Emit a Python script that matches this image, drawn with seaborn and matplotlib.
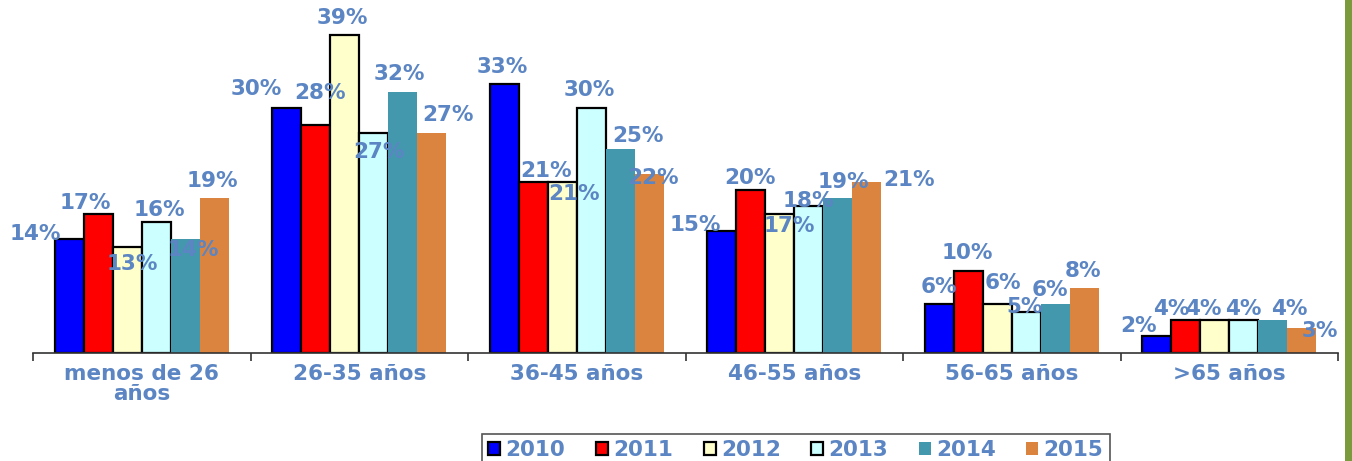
import numpy as np
import pandas as pd
import seaborn as sns
import matplotlib.pyplot as plt
from matplotlib.patches import Rectangle

# data
age_groups = ["menos de 26\naños", "26-35 años", "36-45 años", "46-55 años", "56-65 años", ">65 años"]
years = ["2010", "2011", "2012", "2013", "2014", "2015"]
pct_2010 = [14, 30, 33, 15, 6, 2]
pct_2011 = [17, 28, 21, 20, 10, 4]
pct_2012 = [13, 39, 21, 17, 6, 4]
pct_2013 = [16, 27, 30, 18, 5, 4]
pct_2014 = [14, 32, 25, 19, 6, 4]
pct_2015 = [19, 27, 22, 21, 8, 3]

# style
colors = ["#0000FF", "#FF0000", "#FFFFCC", "#CCFFFF", "#4398AE", "#DB843F"]
outlined = [True, True, True, True, False, False]
txt_col = "#5B85C3"
fs = 15.5
# hand placed label nudges (px) per age group, per year
label_nudge = [
    [(-34, 5), (-13, 11), (5, -17), (3, 12), (8, -11), (-2, 17)],
    [(-31, 19), (4, 32), (-2, 17), (5, -19), (-3, 18), (16, 18)],
    [(-2, 17), (13, 11), (12, -12), (-2, 18), (18, 13), (4, -4)],
    [(-26, 6), (-1, 12), (10, -12), (0, 5), (6, 16), (42, 2)],
    [(0, 17), (-1, 18), (6, 21), (-2, 5), (-5, 14), (-1, 17)],
    [(-18, 10), (-15, 11), (-11, 11), (-1, 11), (17, 11), (18, -3)],
]

series = [pct_2010, pct_2011, pct_2012, pct_2013, pct_2014, pct_2015]
df = pd.DataFrame({
    "grupo": age_groups * len(years),
    "year": np.repeat(years, len(age_groups)),
    "pct": np.concatenate(series),
})

sns.set_theme(style="white")
plt.rcParams["font.family"] = ["DejaVu Sans"]
plt.rcParams["font.weight"] = "bold"

W, H = 1352, 461
fig = plt.figure(figsize=(W / 100, H / 100), dpi=100)
ax = fig.add_axes([33 / W, (H - 352.7) / H, (1338 - 33) / W, 352.7 / H])

sns.barplot(data=df, x="grupo", y="pct", hue="year", order=age_groups, hue_order=years,
            palette=colors, saturation=1, errorbar=None, width=0.8, legend=False, ax=ax)

for i, cont in enumerate(ax.containers):
    for j, bar in enumerate(cont):
        if outlined[i]:
            bar.set_edgecolor("black")
            bar.set_linewidth(1.6)
        else:
            bar.set_edgecolor(colors[i])
            bar.set_linewidth(0)
        dx, dy = label_nudge[j][i]
        ax.annotate(f"{series[i][j]}%", xy=(bar.get_x() + bar.get_width() / 2, bar.get_height()),
                    xytext=(dx, dy), textcoords="offset pixels", ha="center", va="center",
                    fontsize=fs, fontweight="bold", color=txt_col, zorder=5)

ax.set_ylim(0, 352.7 / 8.14)
ax.set_xlim(-0.5, len(age_groups) - 0.5)
ax.set_xlabel("")
ax.set_ylabel("")
ax.set_yticks([])
for s in ["top", "right", "left"]:
    ax.spines[s].set_visible(False)
ax.spines["bottom"].set_color("#333333")
ax.spines["bottom"].set_linewidth(1.2)

ax.set_xticks(np.arange(len(age_groups) + 1) - 0.5, minor=True)
ax.tick_params(axis="x", which="minor", length=6, width=1.2, color="#333333", direction="out", bottom=True)
ax.tick_params(axis="x", which="major", length=0, pad=8, labelsize=fs, labelcolor=txt_col)
for t in ax.get_xticklabels():
    t.set_fontweight("bold")
    t.set_linespacing(1.0)

leg = ax.legend(ax.containers, years, loc="upper left", ncol=6,
                bbox_to_anchor=(482 / W, 1 - 434 / H), bbox_transform=fig.transFigure,
                borderaxespad=0, frameon=True, fancybox=False, framealpha=1,
                handlelength=0.55, handleheight=0.55, handletextpad=0.25, columnspacing=1.42,
                prop={"size": fs, "weight": "bold"}, labelcolor=txt_col, borderpad=0.3)
leg.get_frame().set_edgecolor("#555555")
leg.get_frame().set_linewidth(1.2)

# green strip at right edge
fig.patches.append(Rectangle((1345 / W, 0), 7 / W, 1, transform=fig.transFigure,
                             facecolor="#7A9A3C", edgecolor="none"))

plt.savefig("out.png", dpi=100)
